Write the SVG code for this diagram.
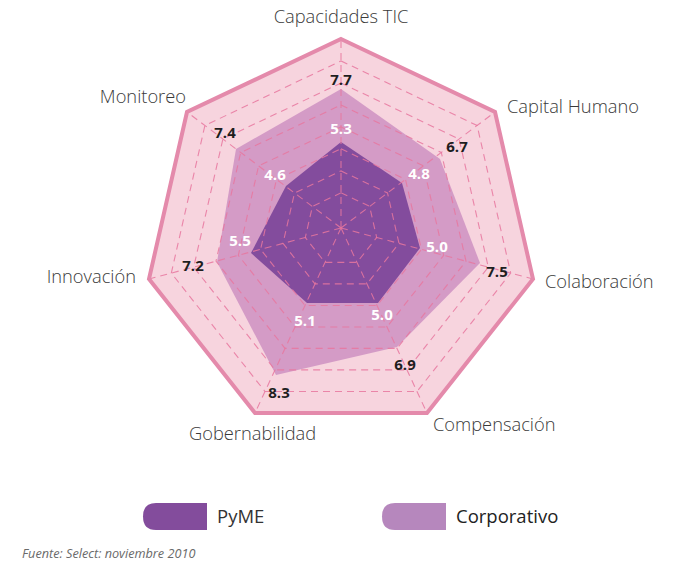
<svg xmlns="http://www.w3.org/2000/svg" width="673" height="562" viewBox="0 0 673 562">
<style>
.axis{font-family:"Open Sans","Liberation Sans",sans-serif;font-size:18.3px;fill:#3a3a3a;font-weight:300}
.val{font-family:"Open Sans","Liberation Sans",sans-serif;font-size:15px;font-weight:700;text-anchor:middle}
.dk{fill:#1e1e1e}
.wh{fill:#ffffff}
.grid{fill:none;stroke:#e8779f;stroke-width:1.1;stroke-dasharray:7 5;opacity:0.85}
.leg{font-family:"Open Sans","Liberation Sans",sans-serif;font-size:18.5px;fill:#333}
</style>
<rect width="673" height="562" fill="#ffffff"/>
<g id="background">
<polygon points="341,39 495,112 533,279 427,413 255,413 149,279 187,112" fill="#f7d4de"/>
</g>
<g id="series-corporativo">
<polygon points="341,89 440,159 480,263 397,347 276,375 217,262 236,149" fill="#d49bc6"/>
</g>
<g id="series-pyme">
<polygon points="341,142 402,183 420,248 378,303 307,303 251,253 286,186" fill="#834c9d"/>
</g>
<g id="connectors">
<polygon class="grid" points="341,60.9 477.1,125.5 510.7,273.1 417,391.5 265,391.5 171.3,273.1 204.9,125.5"/>
<polygon class="grid" points="341,83 459.1,139 488.3,267.1 407,369.9 275,369.9 193.7,267.1 222.9,139"/>
<polygon class="grid" points="341,105 441.3,152.5 466,261.2 397,348.4 285,348.4 216,261.2 240.7,152.5"/>
<polygon class="grid" points="341,126.9 423.4,165.9 443.7,255.3 387,327 295,327 238.3,255.3 258.6,165.9"/>
<polygon class="grid" points="341,148.8 405.5,179.4 421.4,249.4 377,305.5 305,305.5 260.6,249.4 276.5,179.4"/>
<polygon class="grid" points="341,170.9 387.5,193 399,243.4 367,283.9 315,283.9 283,243.4 294.5,193"/>
<polygon class="grid" points="341,192.8 369.6,206.4 376.7,237.5 357,262.4 325,262.4 305.3,237.5 312.4,206.4"/>
<line class="grid" x1="341" y1="228" x2="341" y2="39"/>
<line class="grid" x1="341" y1="228" x2="495" y2="112"/>
<line class="grid" x1="341" y1="228" x2="533" y2="279"/>
<line class="grid" x1="341" y1="228" x2="427" y2="413"/>
<line class="grid" x1="341" y1="228" x2="255" y2="413"/>
<line class="grid" x1="341" y1="228" x2="149" y2="279"/>
<line class="grid" x1="341" y1="228" x2="187" y2="112"/>
<polygon points="341,39 495,112 533,279 427,413 255,413 149,279 187,112" fill="none" stroke="#e48aab" stroke-width="4"/>
</g>
<g id="axis-labels">
<text class="axis" x="341" y="23" text-anchor="middle">Capacidades TIC</text>
<text class="axis" x="507" y="113">Capital Humano</text>
<text class="axis" x="545" y="288">Colaboración</text>
<text class="axis" x="433" y="431">Compensación</text>
<text class="axis" x="189" y="440">Gobernabilidad</text>
<text class="axis" x="136" y="283" text-anchor="end">Innovación</text>
<text class="axis" x="186" y="103" text-anchor="end">Monitoreo</text>
</g>
<g id="value-labels">
<text class="val dk" x="341" y="85">7.7</text>
<text class="val wh" x="341" y="134">5.3</text>
<text class="val dk" x="457" y="152">6.7</text>
<text class="val wh" x="419" y="179">4.8</text>
<text class="val wh" x="437" y="252">5.0</text>
<text class="val dk" x="497" y="277">7.5</text>
<text class="val wh" x="382" y="320">5.0</text>
<text class="val dk" x="405" y="370">6.9</text>
<text class="val dk" x="279" y="398">8.3</text>
<text class="val wh" x="305" y="326">5.1</text>
<text class="val dk" x="193" y="271">7.2</text>
<text class="val wh" x="240" y="246">5.5</text>
<text class="val dk" x="225" y="138">7.4</text>
<text class="val wh" x="275" y="180">4.6</text>
</g>
<g id="legend-pyme">
<path d="M207,503 H156 Q143,503 143,516.5 Q143,530 156,530 H207 Z" fill="#834c9c"/>
<text class="leg" x="217" y="523">PyME</text>
</g>
<g id="legend-corporativo">
<path d="M446,503 H395 Q382,503 382,516.5 Q382,530 395,530 H446 Z" fill="#b687bd"/>
<text class="leg" x="456" y="523" style="fill:#222">Corporativo</text>
</g>
<text x="22" y="558" font-family="'Open Sans','Liberation Sans',sans-serif" font-size="12.7" font-style="italic" fill="#6a6a6a">Fuente: Select: noviembre 2010</text>
</svg>
